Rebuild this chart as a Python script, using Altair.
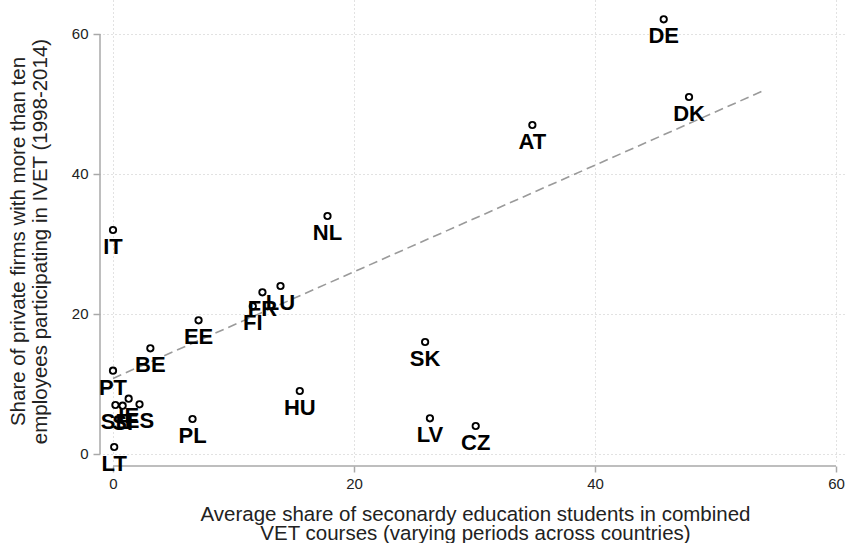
import altair as alt
import pandas as pd

# Country codes with the two averages plotted against each other
countries = ["DE", "DK", "AT", "NL", "IT", "LU", "FR", "FI", "EE", "BE", "PT",
             "SK", "HU", "LV", "CZ", "PL", "LT", "SE", "SI", "IE", "ES"]
vet_share = [45.7, 47.8, 34.8, 17.8, 0.0, 13.9, 12.4, 11.6, 7.1, 3.1, 0.0,
             25.9, 15.5, 26.3, 30.1, 6.6, 0.1, 0.2, 0.8, 1.3, 2.2]
firm_share = [62.1, 51.0, 47.0, 34.0, 32.0, 24.0, 23.1, 21.1, 19.1, 15.1, 11.9,
              16.0, 9.0, 5.1, 4.0, 5.0, 1.0, 7.0, 6.9, 7.9, 7.1]

# Linear fit endpoints
fit_x = [0.0, 54.1]
fit_y = [10.8, 52.0]

tick_values = [0, 20, 40, 60]

points = pd.DataFrame({"country": countries, "x": vet_share, "y": firm_share})
fit = pd.DataFrame({"x": fit_x, "y": fit_y})
xline = pd.DataFrame({"x": [0], "x2": [60]})
yline = pd.DataFrame({"y": [0], "y2": [60]})

FONT = "Liberation Sans"
AXIS_GREY = "#a8a8a8"

x_title = ["Average share of seconardy education students in combined",
           "VET courses (varying periods across countries)"]
y_title = ["Share of private firms with more than ten",
           "employees participating in IVET (1998-2014)"]

x_enc = alt.X(
    "x:Q",
    scale=alt.Scale(domain=[-0.83, 60.91], nice=False, zero=False),
    axis=alt.Axis(
        values=tick_values, domain=False, offset=3, tickSize=6,
        tickColor=AXIS_GREY, tickWidth=1.5, labelPadding=4,
        grid=True, gridColor="#c4c4c4", gridDash=[1, 3], gridWidth=1,
        title=x_title, titleBaseline="top", titleX=372, titleY=38,
        titleLineHeight=19,
    ),
)
y_enc = alt.Y(
    "y:Q",
    scale=alt.Scale(domain=[-1.286, 64.857], nice=False, zero=False),
    axis=alt.Axis(
        values=tick_values, domain=False, offset=3, tickSize=7,
        tickColor=AXIS_GREY, tickWidth=1.5, labelPadding=5,
        grid=True, gridColor="#c4c4c4", gridDash=[1, 3], gridWidth=1,
        title=y_title, titleAngle=-90, titleBaseline="bottom",
        titleX=-72, titleY=241, titleLineHeight=22,
    ),
)

fit_line = alt.Chart(fit).mark_line(
    color="#9a9a9a", strokeDash=[9, 5], strokeWidth=1.6
).encode(x=x_enc, y=y_enc)

x_axis_line = alt.Chart(xline).mark_rule(color=AXIS_GREY, strokeWidth=1.5).encode(
    x=x_enc, x2="x2:Q", y=alt.value(466)
)
y_axis_line = alt.Chart(yline).mark_rule(color=AXIS_GREY, strokeWidth=1.5).encode(
    y=y_enc, y2="y2:Q", x=alt.value(-3)
)

markers = alt.Chart(points).mark_point(
    shape="circle", filled=False, color="black", size=40, strokeWidth=1.9,
    opacity=1
).encode(x=x_enc, y=y_enc)

labels = alt.Chart(points).mark_text(
    font=FONT, fontSize=22, fontWeight="bold", color="black",
    align="center", baseline="alphabetic", dy=24
).encode(x=x_enc, y=y_enc, text="country:N")

chart = alt.layer(fit_line, x_axis_line, y_axis_line, markers, labels).properties(
    width=744, height=463,
    autosize=alt.AutoSizeParams(type="none"),
    padding={"left": 103, "top": 0, "right": 0, "bottom": 80},
    background="white",
).configure_view(stroke=None).configure_axis(
    labelFont=FONT, labelFontSize=15, labelColor="#222222",
    titleFont=FONT, titleFontSize=20.5, titleFontWeight="normal", titleColor="#222222",
)

chart.save("out.html", embed_options={"renderer": "svg", "actions": False})
